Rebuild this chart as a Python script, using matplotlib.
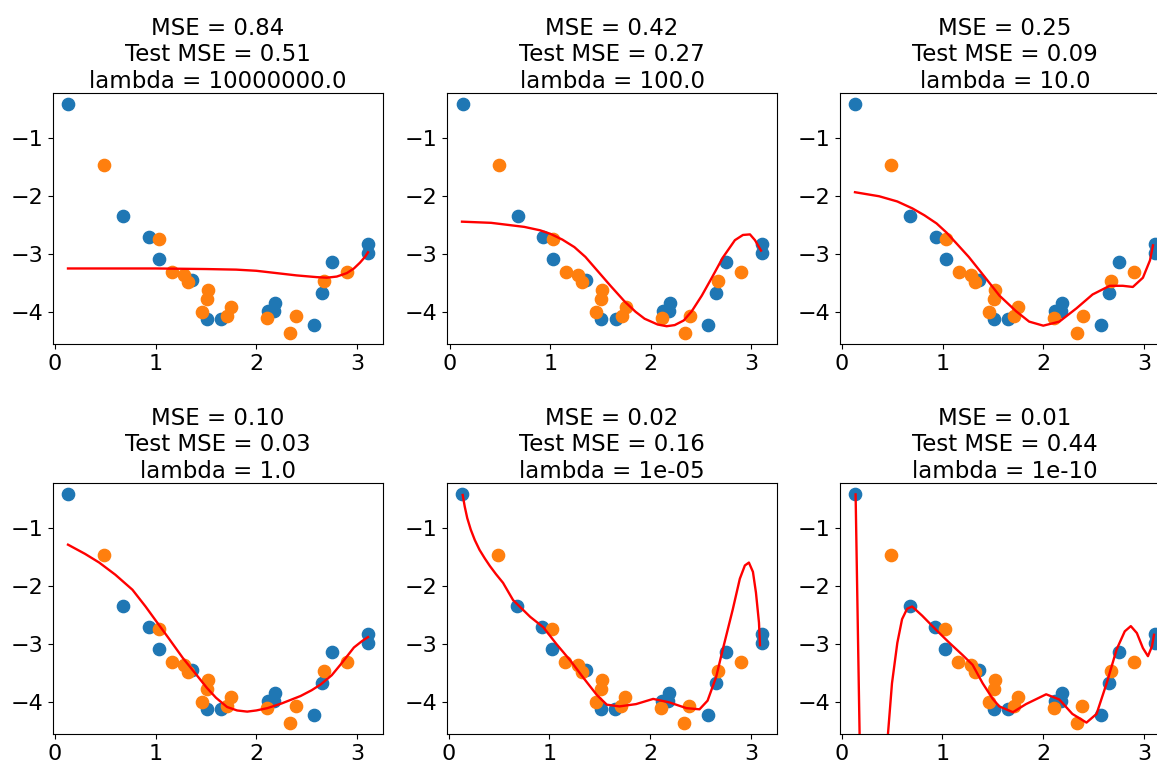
import matplotlib
matplotlib.use('Agg')
import matplotlib.pyplot as plt

# training points (blue) and test points (orange)
train_x = [0.133, 0.68, 0.93, 1.03, 1.36, 1.51, 1.65, 2.12, 2.18, 2.19, 2.57, 2.65, 2.75, 3.11, 3.11]
train_y = [-0.41, -2.35, -2.71, -3.08, -3.45, -4.12, -4.12, -3.99, -3.99, -3.85, -4.22, -3.68, -3.14, -2.82, -2.98]
test_x = [0.49, 1.03, 1.16, 1.28, 1.32, 1.46, 1.52, 1.51, 1.71, 1.75, 2.11, 2.34, 2.39, 2.67, 2.90]
test_y = [-1.46, -2.74, -3.31, -3.36, -3.49, -4.00, -3.62, -3.78, -4.08, -3.92, -4.10, -4.36, -4.08, -3.47, -3.31]

mse = ['0.84', '0.42', '0.25', '0.10', '0.02', '0.01']
test_mse = ['0.51', '0.27', '0.09', '0.03', '0.16', '0.44']
lambdas = ['10000000.0', '100.0', '10.0', '1.0', '1e-05', '1e-10']

# fitted curves, one per lambda
fit1_x = [0.13, 0.5, 1.0, 1.5, 1.8, 2.0, 2.2, 2.4, 2.6, 2.7, 2.8, 2.9, 2.97, 3.03, 3.08, 3.11]
fit1_y = [-3.25, -3.25, -3.25, -3.26, -3.27, -3.29, -3.33, -3.37, -3.40, -3.41, -3.39, -3.33, -3.25, -3.15, -3.05, -2.97]

fit2_x = [0.12, 0.41, 0.74, 0.9, 1.0, 1.12, 1.24, 1.35, 1.47, 1.6, 1.74, 1.85, 1.94, 2.07, 2.16, 2.24,
          2.33, 2.41, 2.51, 2.61, 2.72, 2.84, 2.92, 2.99, 3.04, 3.1]
fit2_y = [-2.44, -2.46, -2.53, -2.59, -2.65, -2.75, -2.88, -3.05, -3.29, -3.55, -3.82, -4.0, -4.12, -4.22,
          -4.25, -4.23, -4.15, -3.99, -3.72, -3.41, -3.06, -2.76, -2.67, -2.66, -2.76, -2.94]

fit3_x = [0.13, 0.37, 0.55, 0.70, 0.82, 0.94, 1.04, 1.14, 1.26, 1.37, 1.47, 1.565, 1.73, 1.86, 2.0, 2.16,
          2.33, 2.49, 2.66, 2.79, 2.89, 2.99, 3.06, 3.09]
fit3_y = [-1.93, -2.0, -2.09, -2.21, -2.33, -2.47, -2.63, -2.82, -3.05, -3.29, -3.51, -3.72, -3.99, -4.17,
          -4.24, -4.17, -3.94, -3.70, -3.55, -3.55, -3.57, -3.41, -3.11, -2.85]

fit4_x = [0.13, 0.3, 0.44, 0.6, 0.77, 0.9, 1.0, 1.13, 1.27, 1.4, 1.51, 1.6, 1.71, 1.81, 1.91, 2.0, 2.11,
          2.25, 2.44, 2.55, 2.64, 2.75, 2.84, 2.97, 3.05, 3.11]
fit4_y = [-1.28, -1.44, -1.59, -1.8, -2.06, -2.35, -2.59, -2.9, -3.24, -3.52, -3.76, -3.93, -4.09, -4.15,
          -4.17, -4.15, -4.11, -4.03, -3.9, -3.8, -3.7, -3.54, -3.35, -3.06, -2.95, -2.88]

fit5_x = [0.14, 0.16, 0.185, 0.22, 0.26, 0.307, 0.36, 0.41, 0.47, 0.54, 0.64, 0.81, 0.94, 1.07, 1.21, 1.34,
          1.47, 1.57, 1.695, 1.86, 2.03, 2.19, 2.36, 2.49, 2.57, 2.655, 2.72, 2.82, 2.89, 2.94, 2.98, 3.02,
          3.05, 3.08, 3.09]
fit5_y = [-0.42, -0.62, -0.82, -1.02, -1.2, -1.37, -1.52, -1.65, -1.79, -1.94, -2.24, -2.53, -2.71, -3.0,
          -3.29, -3.59, -3.88, -4.05, -4.08, -4.04, -3.95, -4.01, -4.11, -4.13, -3.98, -3.57, -3.10, -2.40,
          -1.87, -1.64, -1.59, -1.75, -2.11, -2.63, -3.02]

fit6_x = [0.139, 0.179, 0.23, 0.30, 0.38, 0.46, 0.50, 0.553, 0.60, 0.65, 0.70, 0.80, 0.935, 1.07, 1.2,
          1.30, 1.40, 1.50, 1.565, 1.70, 1.83, 2.03, 2.16, 2.29, 2.43, 2.53, 2.63, 2.73, 2.81, 2.87, 2.93,
          2.99, 3.04, 3.08, 3.10]
fit6_y = [-0.41, -4.6, -9.0, -11.0, -9.0, -4.56, -3.68, -2.98, -2.57, -2.39, -2.35, -2.51, -2.75, -2.98,
          -3.19, -3.36, -3.68, -3.95, -4.08, -4.18, -4.04, -3.87, -3.96, -4.21, -4.36, -4.21, -3.68, -3.09,
          -2.78, -2.69, -2.81, -3.07, -3.21, -3.04, -2.84]

fit_x = [fit1_x, fit2_x, fit3_x, fit4_x, fit5_x, fit6_x]
fit_y = [fit1_y, fit2_y, fit3_y, fit4_y, fit5_y, fit6_y]

fig = plt.figure(figsize=(11.57, 7.65), dpi=100)

W, H = 1157.0, 765.0
lefts = [53, 447, 840]
tops = [93, 483]
aw, ah = 330, 251

for k in range(6):
    r, c = divmod(k, 3)
    ax = fig.add_axes([lefts[c] / W, 1 - (tops[r] + ah) / H, aw / W, ah / H])
    ax.scatter(train_x, train_y, s=78, color='#1f77b4', zorder=2)
    ax.scatter(test_x, test_y, s=78, color='#ff7f0e', zorder=2)
    ax.set_ylim(ax.get_ylim())
    ax.plot(fit_x[k], fit_y[k], color='red', lw=1.7, zorder=3)
    ax.set_title('MSE = %s\nTest MSE = %s\nlambda = %s' % (mse[k], test_mse[k], lambdas[k]),
                 fontsize=16.5, pad=3.5)
    ax.set_xticks([0, 1, 2, 3])
    ax.set_yticks([-1, -2, -3, -4])
    ax.tick_params(labelsize=16)

fig.savefig('out.png', dpi=100)
